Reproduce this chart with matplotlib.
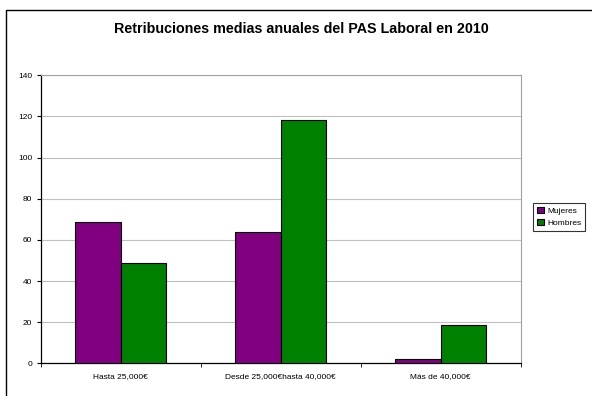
import matplotlib
matplotlib.use("Agg")
import matplotlib.pyplot as plt
import numpy as np
from matplotlib.patches import Rectangle

categories = ["Hasta 25,000€", "Desde 25,000€hasta 40,000€", "Más de 40,000€"]
mujeres = [68.7, 64.0, 2.0]
hombres = [48.7, 118.5, 18.7]
series_names = ["Mujeres", "Hombres"]
yticks = [0, 20, 40, 60, 80, 100, 120, 140]

plt.rcParams['font.family'] = ['Liberation Sans', 'DejaVu Sans']

W, H = 592, 396
fig = plt.figure(figsize=(W/100, H/100), dpi=100)

# outer chart border (extends beyond right and bottom edges)
fig.patches.append(Rectangle((6/W, -0.2), 1.2, 1.2 - 10/H, transform=fig.transFigure,
                             fill=False, edgecolor='black', linewidth=1.0))

left, right, top, bottom = 40.7, 520.7, 75.3, 363.3
ax = fig.add_axes([left/W, 1 - bottom/H, (right-left)/W, (bottom-top)/H])

x = np.arange(len(categories))
bw = 0.283
ax.bar(x - bw/2, mujeres, bw, color='#800080', edgecolor='black', linewidth=0.8,
       label=series_names[0], zorder=3)
ax.bar(x + bw/2, hombres, bw, color='#008000', edgecolor='black', linewidth=0.8,
       label=series_names[1], zorder=3)

ax.set_xlim(-0.5, len(categories) - 0.5)
ax.set_ylim(0, 140)
ax.set_yticks(yticks)
ax.set_yticklabels([str(v) for v in yticks], fontsize=6)
ax.yaxis.grid(True, color='#c0c0c0', linewidth=0.8, zorder=0)
ax.set_axisbelow(True)

ax.set_xticks(x)
ax.set_xticklabels(categories, fontsize=6)
ax.tick_params(axis='x', length=0, pad=7)
ax.set_xticks(np.arange(len(categories) + 1) - 0.5, minor=True)
ax.tick_params(axis='x', which='minor', length=3, direction='out', color='black')
ax.tick_params(axis='y', length=3, direction='out', color='black', pad=3)

for s in ['top', 'right']:
    ax.spines[s].set_color('#a0a0a0')
    ax.spines[s].set_linewidth(0.8)
for s in ['left', 'bottom']:
    ax.spines[s].set_color('black')
    ax.spines[s].set_linewidth(0.9)

fig.text(301/W, 1 - 29/H, "Retribuciones medias anuales del PAS Laboral en 2010",
         ha='center', va='center', fontsize=10.3, fontweight='bold')

leg = fig.legend(loc='center left', bbox_to_anchor=(533/W, 1 - 217/H), fontsize=6,
                 frameon=True, fancybox=False, edgecolor='black', handlelength=0.8,
                 handleheight=0.8, handletextpad=0.4, borderpad=0.5, labelspacing=0.5,
                 borderaxespad=0)
leg.get_frame().set_linewidth(0.8)

fig.savefig("out.png", dpi=100)
